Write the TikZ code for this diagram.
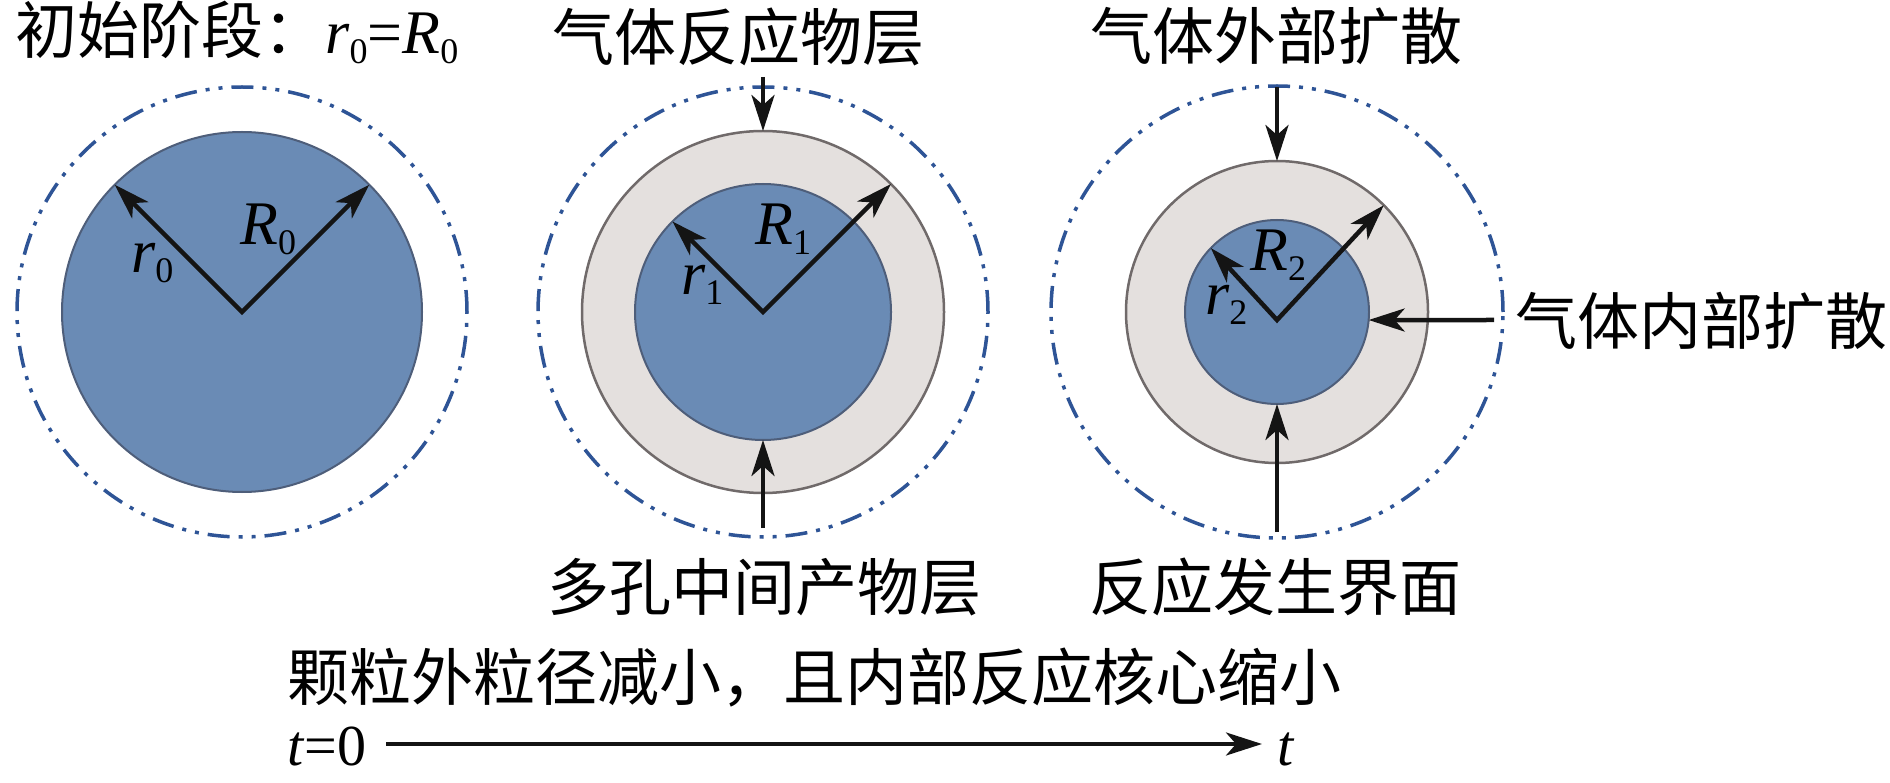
\documentclass[tikz,border=0pt]{standalone}
\usepackage{fontspec}
\setmainfont{Liberation Serif}
\newfontfamily\cjk{Noto Sans CJK SC}
\usetikzlibrary{arrows.meta}
\definecolor{corefill}{RGB}{106,139,181}
\definecolor{coreline}{RGB}{78,94,122}
\definecolor{shellfill}{RGB}{228,224,222}
\definecolor{shellline}{RGB}{112,106,106}
\definecolor{dashblue}{RGB}{46,84,150}
\definecolor{inkblack}{RGB}{20,20,20}
\newcommand\lsub[1]{\raisebox{-10pt}{\fontsize{36pt}{36pt}\selectfont\upshape #1}}
\begin{document}
\begin{tikzpicture}[x=1pt,y=-1pt,
  >={Stealth[length=36pt,width=23pt,inset=10pt]},
  core/.style={circle,draw=coreline,line width=2pt,fill=corefill,inner sep=0,outer sep=0},
  shell/.style={circle,draw=shellline,line width=2.5pt,fill=shellfill,inner sep=0,outer sep=0},
  halo/.style={circle,draw=dashblue,line width=3.5pt,dash pattern=on 22pt off 9pt on 4pt off 9pt on 4pt off 9pt,inner sep=0,outer sep=0},
  arr/.style={draw=inkblack,line width=4.5pt,->},
  arrtwo/.style={draw=inkblack,line width=4.5pt,<->,line join=miter},
  cjktext/.style={font=\fontsize{62pt}{70pt}\cjk,inner sep=0},
  lab/.style={font=\fontsize{62pt}{70pt}\selectfont\itshape,inner sep=0,anchor=base west}
]
\useasboundingbox (0,0) rectangle (1890,783);

% circle 1
\node[halo,minimum size=450pt] (h1) at (242,312) {};
\node[core,minimum size=360pt] (b1) at (242,312) {};
\coordinate (v1) at (242,312);
\draw[arrtwo] (b1.135) -- (v1) -- (b1.45);
\node[lab] (lr0) at (131,273) {r\lsub{0}};
\node[lab] (lR0) at (240,245) {R\lsub{0}};

% circle 2
\node[halo,minimum size=450pt] (h2) at (763,312) {};
\node[shell,minimum size=362pt] (g2) at (763,312) {};
\node[core,minimum size=256pt] (b2) at (763,312) {};
\coordinate (v2) at (763,312);
\draw[arrtwo] (b2.135) -- (v2) -- (g2.45);
\node[lab] (lr1) at (681,295) {r\lsub{1}};
\node[lab] (lR1) at (755,245) {R\lsub{1}};
\coordinate (s2t) at (763,77);
\draw[arr] (s2t) -- (g2.north);
\coordinate (s2b) at (763,528);
\draw[arr] (s2b) -- (b2.south);

% circle 3
\node[halo,minimum size=452pt] (h3) at (1277,312) {};
\node[shell,minimum size=302pt] (g3) at (1277,312) {};
\node[core,minimum size=184pt] (b3) at (1277,312) {};
\coordinate (v3) at (1277,320);
\draw[arrtwo] (b3.136) -- (v3) -- (g3.45);
\node[lab] (lr2) at (1205,315) {r\lsub{2}};
\node[lab] (lR2) at (1250,271) {R\lsub{2}};
\coordinate (s3t) at (1277,87);
\draw[arr] (s3t) -- (g3.north);
\coordinate (s3b) at (1277,532);
\draw[arr] (s3b) -- (b3.south);
\coordinate (s3r) at (1494,320);
\draw[arr] (s3r) -- (b3.-5);

% texts
\node[cjktext,anchor=base west] (title) at (15,54) {初始阶段：{\rmfamily\fontsize{62pt}{70pt}\selectfont\textit{r}\lsub{0}=\textit{R}\lsub{0}}};
\node[cjktext,anchor=base] (gas) at (738,61) {气体反应物层};
\node[cjktext,anchor=base] (ext) at (1276,60) {气体外部扩散};
\node[cjktext,anchor=base west] (int) at (1515,345) {气体内部扩散};
\node[cjktext,anchor=base] (por) at (764,610) {多孔中间产物层};
\node[cjktext,anchor=base] (rif) at (1275,610) {反应发生界面};
\node[cjktext,anchor=base west] (sum) at (287,700) {颗粒外粒径减小，且内部反应核心缩小};

% time axis
\node[font=\fontsize{58pt}{64pt}\selectfont,inner sep=0,anchor=base west] (t0) at (287,765) {\textit{t}=0};
\node[font=\fontsize{58pt}{64pt}\selectfont,inner sep=0,anchor=base west] (t1) at (1277,765) {\textit{t}};
\coordinate (ta) at (386,744);
\coordinate (tb) at (1262,744);
\draw[arr,line width=4pt] (ta) -- (tb);
\end{tikzpicture}
\end{document}
